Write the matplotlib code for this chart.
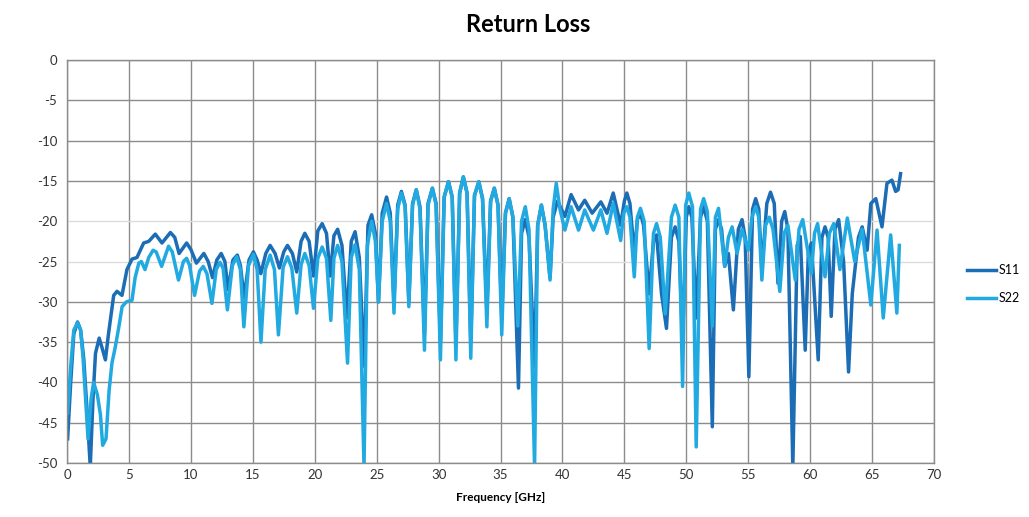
import numpy as np
import matplotlib
matplotlib.use("Agg")
import matplotlib.pyplot as plt

plt.rcParams["axes.unicode_minus"] = False
plt.rcParams["font.family"] = ["Lato", "DejaVu Sans"]

# S11 trace (GHz, dB)
s11_f = [0.05, 0.3, 0.55, 0.85, 1.1, 1.35, 1.6, 1.88, 2.1, 2.3, 2.6, 2.85, 3.1, 3.35, 3.5,
         3.77, 4.04, 4.44, 4.84, 5.25, 5.65, 6.19, 6.6, 7.13, 7.67, 8.35, 8.7, 9.05, 9.66,
         10.0, 10.45, 11.05, 11.4, 11.75, 12.1, 12.45, 12.75, 13.0, 13.4, 13.75, 14.0, 14.3,
         14.7, 15.05, 15.35, 15.65, 16.05, 16.4, 16.8, 17.15, 17.5, 17.8, 18.2, 18.55, 18.9,
         19.2, 19.55, 19.9, 20.25, 20.6, 20.95, 21.25, 21.55, 21.85, 22.2, 22.6, 22.95, 23.26,
         23.6, 24.0, 24.3, 24.6, 24.9, 25.15, 25.45, 25.8, 26.1, 26.4, 26.7, 27.0, 27.3, 27.6,
         27.9, 28.2, 28.5, 28.86, 29.15, 29.5, 29.8, 30.15, 30.45, 30.8, 31.1, 31.4, 31.7,
         32.0, 32.3, 32.6, 32.9, 33.25, 33.55, 33.9, 34.2, 34.5, 34.8, 35.1, 35.4, 35.7, 36.0,
         36.45, 36.7, 37.0, 37.3, 37.75, 38.0, 38.3, 38.6, 39.0, 39.25, 39.6, 40.2, 40.7, 41.3,
         41.8, 42.4, 43.1, 43.6, 44.1, 44.7, 45.0, 45.2, 45.45, 45.8, 46.05, 46.3, 46.55, 47.0,
         47.35, 47.6, 48.0, 48.4, 48.8, 49.1, 49.4, 49.7, 50.0, 50.2, 50.45, 50.8, 51.15, 51.4,
         51.7, 52.1, 52.35, 52.6, 52.85, 53.1, 53.4, 53.8, 54.2, 54.5, 54.75, 55.05, 55.35, 55.6,
         55.85, 56.1, 56.5, 56.8, 57.1, 57.4, 57.7, 57.95, 58.2, 58.6, 58.95, 59.2, 59.6, 59.85,
         60.1, 60.65, 60.95, 61.2, 61.45, 61.7, 62.0, 62.3, 62.7, 63.1, 63.4, 63.9, 64.2,
         64.6, 64.9, 65.3, 65.8, 66.2, 66.6, 66.9, 67.1, 67.3]
s11_db = [-47, -40, -34, -32.5, -33.5, -37, -43, -50.5, -42, -36.4, -34.5, -35.8, -37.2, -34, -32.3,
          -29.2, -28.7, -29.2, -26, -24.7, -24.5, -22.7, -22.5, -21.6, -22.7, -21.4, -22, -24, -22.7,
          -23.5, -25.2, -24, -25, -27, -24.8, -24, -25, -28.5, -24.8, -24.2, -25.5, -29.5,
          -24.8, -23.8, -24.8, -26.5, -24, -23, -24, -25.8, -23.8, -23, -24, -26.3, -22.5,
          -21.5, -22.5, -26.8, -21.2, -20.3, -21.5, -26.8, -21.8, -21, -23, -32, -22.5, -21.3,
          -24.5, -38, -20.5, -19.2, -21.5, -30, -19, -17.0, -19, -30, -18, -16.3, -18, -30,
          -17.8, -16.1, -18.2, -34, -17.8, -15.9, -17.8, -35, -17, -15.1, -17, -35, -16.5,
          -14.5, -16.5, -35, -16.8, -15.1, -17.2, -31, -17.5, -15.9, -18, -32, -19, -17.2, -19.5,
          -40.7, -21.5, -19.8, -22, -38, -20.5, -18, -20.5, -27, -19.5, -17.5, -19.4, -16.7, -18.6,
          -17.4, -19.0, -17.6, -19.0, -16.5, -20.5, -17.5, -16.5, -17.8, -24, -19.8, -19, -20.5, -29,
          -22.5, -21.7, -29, -33.3, -22, -20.7, -22.5, -35, -19.5, -18.2, -19.5, -32, -19.5, -18.2,
          -20, -45.5, -21, -19.8, -21, -25.6, -24, -31, -21, -19.8, -22, -39.3, -18.5, -17.2,
          -18.5, -26, -17.8, -16.4, -17.8, -27.7, -20, -18.8, -21, -50.5, -23, -21.9, -36, -24,
          -22.7, -37.2, -22, -20.7, -22, -31.8, -21, -19.8, -25, -38.7, -29, -22, -20.7,
          -23.6, -17.8, -17.2, -20.7, -15.3, -14.9, -16.3, -16.1, -14.1]

# S22 trace (GHz, dB)
s22_f = [0.05, 0.3, 0.55, 0.85, 1.1, 1.3, 1.5, 1.7, 1.95, 2.15, 2.45, 2.7, 2.88, 3.15, 3.4, 3.63,
         3.9, 4.2, 4.45, 4.8, 5.25, 5.5, 5.8, 6.0, 6.3, 6.6, 6.95, 7.2, 7.64, 8.2, 8.5, 9.0,
         9.4, 9.66, 9.9, 10.3, 10.7, 11.0, 11.3, 11.7, 12.05, 12.35, 12.6, 12.95, 13.35, 13.7,
         14.0, 14.28, 14.65, 15.05, 15.35, 15.66, 16.0, 16.4, 16.75, 17.07, 17.45, 17.8, 18.15,
         18.55, 18.9, 19.2, 19.55, 19.9, 20.25, 20.6, 20.95, 21.3, 21.55, 21.85, 22.2, 22.65,
         22.95, 23.26, 23.6, 23.98, 24.25, 24.6, 24.9, 25.15, 25.45, 25.8, 26.1, 26.4, 26.7,
         27.0, 27.3, 27.6, 27.9, 28.2, 28.5, 28.86, 29.15, 29.5, 29.8, 30.15, 30.45, 30.8, 31.1,
         31.4, 31.7, 32.0, 32.3, 32.6, 32.9, 33.25, 33.55, 33.9, 34.2, 34.5, 34.8, 35.1, 35.4,
         35.7, 36.0, 36.4, 36.7, 37.0, 37.3, 37.75, 38.0, 38.3, 38.6, 39.0, 39.25, 39.5, 39.8,
         40.2, 40.7, 41.3, 41.8, 42.5, 43.1, 43.6, 44.1, 44.7, 44.95, 45.2, 45.45, 45.8, 46.05,
         46.3, 46.6, 47.0, 47.35, 47.6, 47.9, 48.3, 48.8, 49.1, 49.4, 49.7, 49.95, 50.2, 50.5,
         50.8, 51.15, 51.4, 51.7, 52.1, 52.35, 52.6, 53.1, 53.4, 53.7, 54.1, 54.5, 55.0, 55.3,
         55.6, 55.85, 56.1, 56.4, 56.7, 57.0, 57.55, 57.9, 58.2, 58.8, 59.1, 59.4, 60.1, 60.35,
         60.6, 61.2, 61.55, 61.9, 62.4, 63.0, 63.6, 64.2, 64.9, 65.4, 65.9, 66.5, 67.0, 67.2]
s22_db = [-43.8, -38, -33.5, -32.6, -33.5, -37, -42, -47, -42, -40, -41.5, -44, -47.8, -47, -41, -37.6,
          -35.6, -33, -30.6, -30, -29.8, -27, -25.2, -25, -26, -24.5, -23.6, -23.8, -25.6, -23.1, -23.8, -27.3,
          -25, -24.6, -25.5, -29.2, -26.2, -25.6, -26.5, -30.2, -26, -25.1, -25.8, -31, -25.5, -24.4,
          -26, -33.1, -25.5, -24.1, -26, -35, -26, -24.2, -26, -34.1, -25.7, -24.4, -25.8,
          -31.4, -25.4, -24.0, -25.5, -30.8, -24.6, -23.2, -24.6, -32.3, -24.6, -23.0, -25, -37.6,
          -24.5, -22.9, -26, -50.5, -23, -20.0, -22.5, -30, -20, -17.8, -20, -31.4, -18.5,
          -16.5, -18.2, -30.6, -18, -16.1, -18.5, -36, -18, -15.9, -18, -37.2, -17, -15.1, -17,
          -37.2, -16.5, -14.5, -16.5, -37, -16.8, -15.1, -17.2, -33.1, -17.5, -15.9, -18, -34.1, -19,
          -17.2, -19.5, -33, -20, -18.2, -21, -50.5, -20.5, -18, -20.5, -27.3, -18.5, -15.3, -18.5,
          -21.1, -18.2, -21.1, -18.6, -21.1, -18.6, -21.5, -17.8, -22.4, -19, -18.2, -19.5, -26.9, -19.5,
          -18.4, -20, -35.8, -21.5, -20.3, -22, -31.5, -19.5, -18.0, -19.5, -40.5, -18, -16.5, -18.2,
          -48, -18.5, -17.2, -18.8, -33, -19.5, -18.4, -25.6, -22, -20.7, -24, -21, -23.6, -19.5,
          -18.2, -19.5, -27.3, -20.5, -19.5, -21, -28.7, -21.5, -20.5, -27.3, -21, -19.8, -26.5, -21.5,
          -20.3, -26.9, -21.5, -20.3, -26, -19.6, -25, -21, -30.4, -21.1, -32, -21.7, -31.4, -23]

x_ticks = list(range(0, 75, 5))
y_ticks = list(range(-50, 5, 5))

fig = plt.figure(figsize=(10.29, 5.17), dpi=100)
ax = fig.add_axes([0.0651, 0.1044, 0.8426, 0.7795])

ax.plot(s11_f, s11_db, color="#1b6db5", lw=2.5, label="S11", solid_joinstyle="round")
ax.plot(s22_f, s22_db, color="#21a9e1", lw=2.5, label="S22", solid_joinstyle="round")

ax.set_xlim(0, 70)
ax.set_ylim(-50, 0)
ax.set_xticks(x_ticks)
ax.set_yticks(y_ticks)
ax.grid(True, color="#8c8c8c", lw=1.0)
ax.set_axisbelow(True)
# the -20 and -25 lines look washed out in the original
for gl, v in zip(ax.yaxis.get_gridlines(), y_ticks):
    if v in (-20, -25):
        gl.set_color("#dcdcdc")
for sp in ax.spines.values():
    sp.set_color("#8c8c8c")
    sp.set_linewidth(1.0)
ax.tick_params(length=0, labelsize=9.5, colors="#333333")
ax.tick_params(axis="x", pad=4)
ax.tick_params(axis="y", pad=7)

ax.set_xlabel("Frequency [GHz]", fontsize=8.5, fontweight="bold", labelpad=8)
fig.text(0.513, 0.952, "Return Loss", ha="center", va="center", fontsize=17,
         fontweight="bold")

fig.legend(loc="center left", bbox_to_anchor=(0.929, 0.45), frameon=False,
           fontsize=9, handlelength=2.3, labelspacing=1.3, handletextpad=0.2)

fig.savefig("out.png", dpi=100)
